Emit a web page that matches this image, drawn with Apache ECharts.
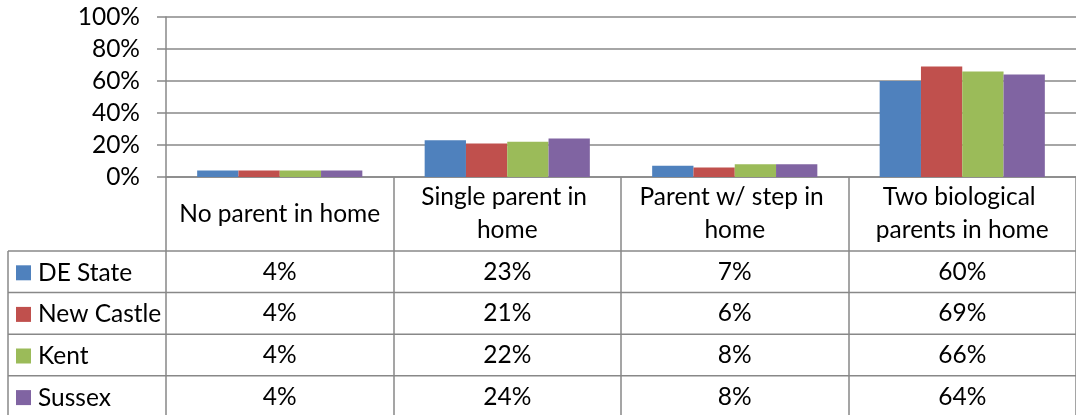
<!DOCTYPE html>
<html>
<head>
<meta charset="utf-8">
<script src="https://cdn.jsdelivr.net/npm/echarts@6/dist/echarts.min.js"></script>
<style>
  html, body { margin: 0; padding: 0; background: #fff; }
  #main { width: 1076px; height: 415px; }
</style>
</head>
<body>
<div id="main"></div>
<script>
// data
const categories = ['No parent in home', 'Single parent in home', 'Parent w/ step in home', 'Two biological parents in home']
const seriesNames = ['DE State', 'New Castle', 'Kent', 'Sussex']
const deState = [4, 23, 7, 60]
const newCastle = [4, 21, 6, 69]
const kent = [4, 22, 8, 66]
const sussex = [4, 24, 8, 64]
const colors = ['#4F81BD', '#C0504D', '#9BBB59', '#8064A2']

const values = [deState, newCastle, kent, sussex]

const FONT = 'Lato'
const FS = 24.5
const GRAY = '#888888'
const headerBottom = 251
const rowH = 41.6
const tableLeft = 8

var chartDom = document.getElementById('main')
var myChart = echarts.init(chartDom)

// one legend per table row so each key sits in its row
const legends = seriesNames.map((name, i) => ({
  data: [name],
  left: 16,
  top: headerBottom + rowH * (i + 0.5) - 11.5,
  padding: 0,
  itemWidth: 15,
  itemHeight: 15,
  icon: 'rect',
  selectedMode: false,
  textStyle: { fontFamily: FONT, fontSize: FS, color: '#000', lineHeight: 15, padding: [0, 0, 0, 2] }
}))

var option = {
  animation: false,
  textStyle: { fontFamily: FONT },
  grid: { left: 166, top: 17, width: 919, height: 160 },
  legend: legends,
  xAxis: {
    type: 'category',
    data: categories,
    axisLine: { lineStyle: { color: GRAY, width: 1.5 } },
    axisTick: { show: true, length: 240, interval: 0, lineStyle: { color: GRAY, width: 1.5 } },
    axisLabel: {
      interval: 0,
      color: '#000',
      fontFamily: FONT,
      fontSize: FS,
      verticalAlign: 'middle',
      margin: 37,
      lineHeight: 33,
      width: 214,
      overflow: 'break'
    }
  },
  yAxis: {
    type: 'value',
    min: 0,
    max: 100,
    interval: 20,
    axisLine: { show: true, lineStyle: { color: GRAY, width: 1.5 } },
    axisTick: { show: true, length: 9, lineStyle: { color: GRAY, width: 1.5 } },
    splitLine: { lineStyle: { color: GRAY, width: 1.5 } },
    axisLabel: { formatter: '{value}%', margin: 26, color: '#000', fontFamily: FONT, fontSize: FS }
  },
  series: seriesNames.map((name, i) => ({
    name: name,
    type: 'bar',
    data: values[i],
    barGap: '0%',
    barCategoryGap: '27.4%',
    itemStyle: { color: colors[i] }
  }))
}

myChart.setOption(option)

// data table below the plot, placed from the category axis
const graphics = []
for (let r = 0; r <= seriesNames.length; r++) {
  const y = headerBottom + rowH * r
  graphics.push({
    type: 'line',
    shape: { x1: tableLeft, y1: y, x2: 1076, y2: y },
    style: { stroke: GRAY, lineWidth: 1.5 }
  })
}
graphics.push({
  type: 'line',
  shape: { x1: tableLeft, y1: headerBottom, x2: tableLeft, y2: 415 },
  style: { stroke: GRAY, lineWidth: 1.5 }
})
values.forEach((row, r) => {
  row.forEach((v, c) => {
    const x = myChart.convertToPixel({ xAxisIndex: 0 }, categories[c])
    graphics.push({
      type: 'text',
      x: x,
      y: headerBottom + rowH * (r + 0.5),
      style: {
        text: v + '%',
        fontFamily: FONT,
        fontSize: FS,
        fill: '#000',
        align: 'center',
        verticalAlign: 'middle'
      }
    })
  })
})
myChart.setOption({ graphic: graphics })
</script>
</body>
</html>
